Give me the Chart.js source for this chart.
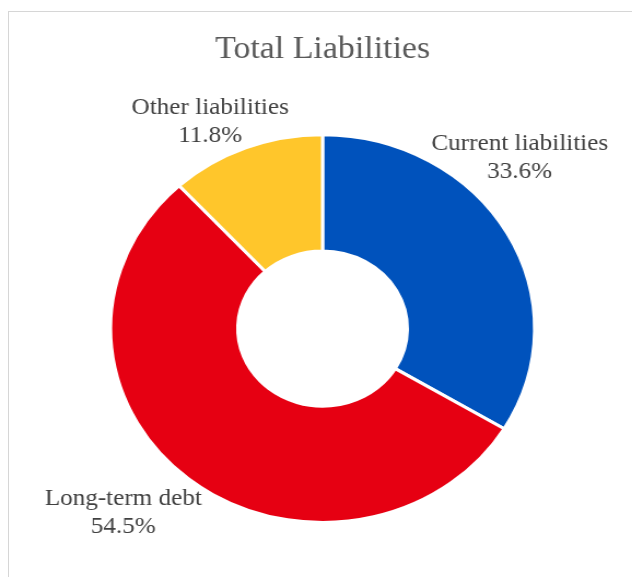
<!DOCTYPE html>
<html>
<head>
<meta charset="utf-8">
<script src="https://cdn.jsdelivr.net/npm/chart.js@4.4.1/dist/chart.umd.min.js"></script>
<style>
    html, body { margin: 0; padding: 0; background: #fff; overflow: hidden; }
    #wrap { position: relative; width: 632px; height: 577px; }
    #frame { position: absolute; left: 8px; top: 11px; width: 700px; height: 700px;
             border: 1px solid #d6d6d6; box-sizing: border-box; }
    #myChart { position: absolute; left: 0; top: 0; transform: scaleX(1.0935); transform-origin: 0 0; }
</style>
</head>
<body>
<div id="wrap">
    <div id="frame"></div>
    <canvas id="myChart" width="578" height="577"></canvas>
</div>
<script>
const categories = ['Current liabilities', 'Long-term debt', 'Other liabilities'];
const shares = [33.6, 54.5, 11.8];
const sliceColors = ['#0052BC', '#E60012', '#FFC62B'];

// where each label sits, in units of the outer radius from the centre
const labelAnchors = [[0.93, -0.95], [-0.94, 0.88], [-0.53, -1.14]];

const outsideLabels = {
    id: 'outsideLabels',
    afterDatasetsDraw(chart) {
        const ctx = chart.ctx;
        const arc = chart.getDatasetMeta(0).data[0];
        const r = arc.outerRadius;
        ctx.save();
        ctx.font = '23px "Liberation Serif", "Times New Roman", serif';
        ctx.fillStyle = '#404040';
        ctx.textAlign = 'center';
        ctx.textBaseline = 'middle';
        categories.forEach((name, i) => {
            const x = arc.x + labelAnchors[i][0] * r;
            const y = arc.y + labelAnchors[i][1] * r;
            ctx.fillText(name, x, y);
            ctx.fillText(shares[i].toFixed(1) + '%', x, y + 28);
        });
        ctx.restore();
    }
};

const data = {
    labels: categories,
    datasets: [{
        data: shares,
        backgroundColor: sliceColors,
        borderColor: '#ffffff',
        borderWidth: 3,
        hoverOffset: 0
    }]
};

const config = {
    type: 'doughnut',
    data: data,
    options: {
        responsive: false,
        animation: false,
        cutout: '40%',
        layout: { padding: { left: 99.5, right: 87.5, top: 0, bottom: 53 } },
        plugins: {
            legend: { display: false },
            tooltip: { enabled: false },
            title: {
                display: true,
                text: 'Total Liabilities',
                color: '#595959',
                font: { family: '"Liberation Serif", "Times New Roman", serif', size: 31, weight: 'normal', lineHeight: 1.2 },
                padding: { top: 31, bottom: 65 }
            }
        }
    },
    plugins: [outsideLabels]
};

const myChart = new Chart(document.getElementById('myChart'), config);
</script>
</body>
</html>
